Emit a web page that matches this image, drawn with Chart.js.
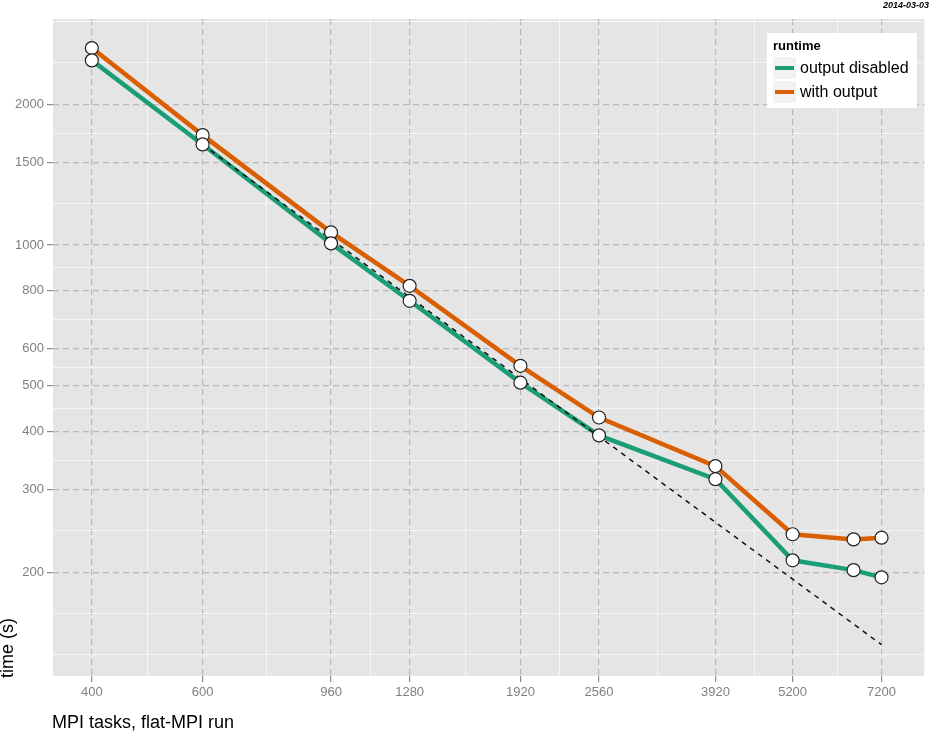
<!DOCTYPE html>
<html>
<head>
<meta charset="utf-8">
<script src="https://cdn.jsdelivr.net/npm/chart.js@4/dist/chart.umd.min.js"></script>
<style>
  html, body { margin: 0; padding: 0; background: #fff; }
  #wrap { width: 932px; height: 735px; position: relative; }
</style>
</head>
<body>
<div id="wrap"><canvas id="scaling"></canvas></div>
<script>
// values
var tasks = [400, 600, 960, 1280, 1920, 2560, 3920, 5200, 6500, 7200];
var outputDisabled = [2480, 1640, 1008, 760, 508, 392, 316, 212, 202, 195];
var withOutput = [2635, 1717, 1064, 818, 552, 428, 337, 241, 235, 237];
var idealTasks = [600, 7200];
var idealTime = [1640, 140];

var xTicks = [400, 600, 960, 1280, 1920, 2560, 3920, 5200, 7200];
var yTicks = [200, 300, 400, 500, 600, 800, 1000, 1500, 2000];

var seriesNames = ['output disabled', 'with output'];
var seriesColors = ['#1B9E77', '#D95F02'];

function pts(xs, ys) {
    return xs.map(function (x, i) { return {x: x, y: ys[i]}; });
}

// ggplot-style minor breaks: midpoints (log space) between breaks, one step beyond each end
function minorBreaks(b) {
    var r = b[1] / b[0];
    var ext = [b[0] / r].concat(b, [b[b.length - 1] * r]);
    var out = [ext[0], ext[ext.length - 1]];
    for (var i = 0; i < ext.length - 1; i++) out.push(Math.sqrt(ext[i] * ext[i + 1]));
    return out;
}

function setTicks(major) {
    return function (axis) {
        var minor = minorBreaks(major).filter(function (v) {
            return v >= axis.min && v <= axis.max;
        });
        axis.ticks = minor.map(function (v) { return {value: v, minor: true}; })
            .concat(major.map(function (v) { return {value: v, minor: false}; }));
    };
}

function isMinor(c) { return c.tick && c.tick.minor; }

var gridOpts = {
    color: function (c) { return isMinor(c) ? 'rgba(255,255,255,0.6)' : '#b9b9b9'; },
    lineWidth: function (c) { return isMinor(c) ? 1 : 1.2; },
    tickColor: function (c) { return isMinor(c) ? 'rgba(0,0,0,0)' : '#8c8c8c'; },
    tickLength: 6,
    tickWidth: 1.2
};
var borderOpts = {
    display: false,
    dash: function (c) { return isMinor(c) ? [] : [6, 4]; }
};

var panelBg = {
    id: 'panelBg',
    beforeDraw: function (chart) {
        var a = chart.chartArea, c = chart.ctx;
        c.save();
        c.fillStyle = '#E5E5E5';
        c.fillRect(a.left, a.top, a.right - a.left, a.bottom - a.top);
        c.restore();
    }
};

var decorations = {
    id: 'decorations',
    afterDraw: function (chart) {
        var c = chart.ctx;
        c.save();
        // axis titles
        c.fillStyle = '#000';
        c.font = '18px "Liberation Sans", Arial, sans-serif';
        c.textAlign = 'left';
        c.textBaseline = 'alphabetic';
        c.fillText('MPI tasks, flat-MPI run', 52, 728);
        c.save();
        c.translate(13, 648);
        c.rotate(-Math.PI / 2);
        c.textAlign = 'center';
        c.fillText('time (s)', 0, 0);
        c.restore();
        // date stamp
        c.font = 'italic bold 9px "Liberation Sans", Arial, sans-serif';
        c.textAlign = 'right';
        c.textBaseline = 'middle';
        c.fillText('2014-03-03', 929, 6);
        // legend
        c.fillStyle = '#fff';
        c.fillRect(767, 33, 150, 75);
        c.fillStyle = '#000';
        c.textAlign = 'left';
        c.font = 'bold 13px "Liberation Sans", Arial, sans-serif';
        c.fillText('runtime', 773, 46);
        c.font = '16px "Liberation Sans", Arial, sans-serif';
        seriesNames.forEach(function (name, i) {
            var y = 68 + i * 24;
            c.fillStyle = '#F2F2F2';
            c.fillRect(773, y - 11, 23, 22);
            c.strokeStyle = seriesColors[i];
            c.lineWidth = 4;
            c.beginPath();
            c.moveTo(775, y);
            c.lineTo(794, y);
            c.stroke();
            c.fillStyle = '#000';
            c.fillText(name, 800, y + 1);
        });
        c.restore();
    }
};

var ctx = document.getElementById('scaling').getContext('2d');
var chart = new Chart(ctx, {
    type: 'line',
    data: {
        datasets: [{
            label: seriesNames[0] + ' points',
            data: pts(tasks, outputDisabled),
            showLine: false,
            order: 0,
            pointRadius: 6.5,
            pointBorderWidth: 1.2,
            pointBorderColor: '#222',
            pointBackgroundColor: '#fff'
        }, {
            label: seriesNames[1] + ' points',
            data: pts(tasks, withOutput),
            showLine: false,
            order: 0,
            pointRadius: 6.5,
            pointBorderWidth: 1.2,
            pointBorderColor: '#222',
            pointBackgroundColor: '#fff'
        }, {
            label: 'ideal',
            data: pts(idealTasks, idealTime),
            order: 1,
            borderColor: '#111',
            borderWidth: 1.5,
            borderDash: [5, 5],
            pointRadius: 0
        }, {
            label: seriesNames[0],
            data: pts(tasks, outputDisabled),
            order: 2,
            borderColor: seriesColors[0],
            borderWidth: 4.5,
            pointRadius: 0
        }, {
            label: seriesNames[1],
            data: pts(tasks, withOutput),
            order: 3,
            borderColor: seriesColors[1],
            borderWidth: 4.5,
            pointRadius: 0
        }]
    },
    options: {
        responsive: true,
        maintainAspectRatio: false,
        animation: false,
        // the layout keeps ~5px aside on the right; a negative pad lets the panel reach x = 929
        layout: { padding: { top: 19, right: -2, left: 0, bottom: 0 } },
        plugins: {
            legend: { display: false },
            tooltip: { enabled: false }
        },
        scales: {
            x: {
                type: 'logarithmic',
                min: 347,
                max: 8420,
                afterBuildTicks: setTicks(xTicks),
                afterFit: function (s) { s.height = 59; s.paddingLeft = 0; s.paddingRight = 0; },
                grid: gridOpts,
                border: borderOpts,
                ticks: {
                    autoSkip: false,
                    maxRotation: 0,
                    padding: 3,
                    color: '#808080',
                    font: { size: 13, family: '"Liberation Sans", Arial, sans-serif' },
                    callback: function (v, i, t) { return t[i].minor ? '' : String(v); }
                }
            },
            y: {
                type: 'logarithmic',
                min: 120,
                max: 3040,
                afterBuildTicks: setTicks(yTicks),
                afterFit: function (s) { s.width = 53; s.paddingTop = 0; s.paddingBottom = 0; },
                grid: gridOpts,
                border: borderOpts,
                ticks: {
                    autoSkip: false,
                    padding: 3,
                    color: '#808080',
                    font: { size: 13, family: '"Liberation Sans", Arial, sans-serif' },
                    callback: function (v, i, t) { return t[i].minor ? '' : String(v); }
                }
            }
        }
    },
    plugins: [panelBg, decorations]
});
</script>
</body>
</html>
